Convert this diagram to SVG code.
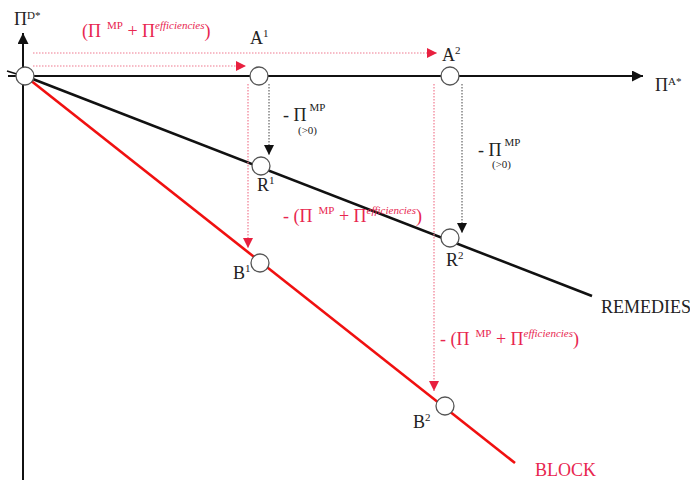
<svg xmlns="http://www.w3.org/2000/svg" width="690" height="482" viewBox="0 0 690 482">
<style>
text,tspan{font-family:"Liberation Serif","Times New Roman",serif}
text{font-size:18px;fill:#222}
.red{fill:#e8264f}
.sup{font-size:11px}
.supi{font-size:11px;font-style:italic}
.node{fill:#fff;stroke:#555;stroke-width:1.3}
.axis{stroke:#111;stroke-width:2;fill:none}
.rdot{stroke:#f07a90;stroke-width:1.2;stroke-dasharray:1.5 1.5;fill:none}
.bdot{stroke:#444;stroke-width:1;stroke-dasharray:1.5 1.5;fill:none}
</style>
<defs>
<marker id="ab" viewBox="0 0 10 10" refX="10" refY="5" markerWidth="10" markerHeight="10" markerUnits="userSpaceOnUse" orient="auto"><path d="M0,0L10,5L0,10z" fill="#111"/></marker>
<marker id="ar" viewBox="0 0 10 10" refX="10" refY="5" markerWidth="10" markerHeight="10" markerUnits="userSpaceOnUse" orient="auto"><path d="M0,0L10,5L0,10z" fill="#e8203f"/></marker>
<marker id="aax" viewBox="0 0 10 10" refX="10" refY="5" markerWidth="13" markerHeight="11" markerUnits="userSpaceOnUse" orient="auto"><path d="M0,0L10,5L0,10z" fill="#111"/></marker>
</defs>
<g id="connectors">
<line class="axis" x1="23" y1="480" x2="23" y2="33" marker-end="url(#aax)"/>
<line class="axis" x1="8" y1="76" x2="643" y2="76" marker-end="url(#aax)"/>
<line x1="7" y1="71" x2="20" y2="75" stroke="#111" stroke-width="1.6"/>
<line id="remedies-line" x1="25" y1="76" x2="592" y2="296" stroke="#111" stroke-width="2.6"/>
<line id="block-line" x1="25" y1="76" x2="515" y2="463" stroke="#f01010" stroke-width="2.6"/>
<line class="rdot" x1="33" y1="53" x2="437" y2="53" marker-end="url(#ar)"/>
<line class="rdot" x1="33" y1="66" x2="246" y2="66" marker-end="url(#ar)"/>
<line class="bdot" x1="269" y1="84" x2="269" y2="155" marker-end="url(#ab)"/>
<line class="rdot" x1="248" y1="84" x2="248" y2="248" marker-end="url(#ar)"/>
<line class="bdot" x1="462" y1="84" x2="462" y2="233" marker-end="url(#ab)"/>
<line class="rdot" x1="434" y1="84" x2="434" y2="391" marker-end="url(#ar)"/>
</g>
<g id="origin"><circle class="node" cx="25" cy="76" r="9"/></g>
<g id="A1"><circle class="node" cx="259" cy="76" r="9"/><text x="250" y="44">A<tspan class="sup" dy="-7">1</tspan></text></g>
<g id="A2"><circle class="node" cx="450" cy="76" r="9"/><text x="442" y="61">A<tspan class="sup" dy="-7">2</tspan></text></g>
<g id="R1"><circle class="node" cx="261" cy="166" r="9"/><text x="257" y="191">R<tspan class="sup" dy="-7">1</tspan></text></g>
<g id="R2"><circle class="node" cx="450" cy="238" r="9"/><text x="446" y="266">R<tspan class="sup" dy="-7">2</tspan></text></g>
<g id="B1"><circle class="node" cx="260" cy="263" r="9"/><text x="233" y="279">B<tspan class="sup" dy="-7">1</tspan></text></g>
<g id="B2"><circle class="node" cx="445" cy="406" r="9"/><text x="413" y="428">B<tspan class="sup" dy="-7">2</tspan></text></g>
<g id="labels">
<text x="14" y="25">Π<tspan class="sup" dy="-6">D*</tspan></text>
<text x="655" y="91">Π<tspan class="sup" dy="-6">A*</tspan></text>
<text x="601" y="313" font-size="14.8">REMEDIES</text>
<text x="535" y="476" class="red" font-size="15.5">BLOCK</text>
<text x="82" y="37" class="red">(Π<tspan class="sup" dx="6" dy="-8">MP</tspan><tspan dy="8"> + Π</tspan><tspan class="supi" dy="-8">efficiencies</tspan><tspan dy="8">)</tspan></text>
<text x="283" y="222" class="red">- (Π<tspan class="sup" dx="6" dy="-8">MP</tspan><tspan dy="8"> + Π</tspan><tspan class="supi" dy="-8">efficiencies</tspan><tspan dy="8">)</tspan></text>
<text x="440" y="345" class="red">- (Π<tspan class="sup" dx="6" dy="-8">MP</tspan><tspan dy="8"> + Π</tspan><tspan class="supi" dy="-8">efficiencies</tspan><tspan dy="8">)</tspan></text>
<text x="283" y="121" font-size="20">- Π<tspan class="sup" dx="3" dy="-10">MP</tspan></text>
<text x="298" y="134" class="sup" fill="#333">(&gt;0)</text>
<text x="478" y="156" font-size="20">- Π<tspan class="sup" dx="3" dy="-10">MP</tspan></text>
<text x="492" y="168" class="sup" fill="#333">(&gt;0)</text>
</g>
</svg>
